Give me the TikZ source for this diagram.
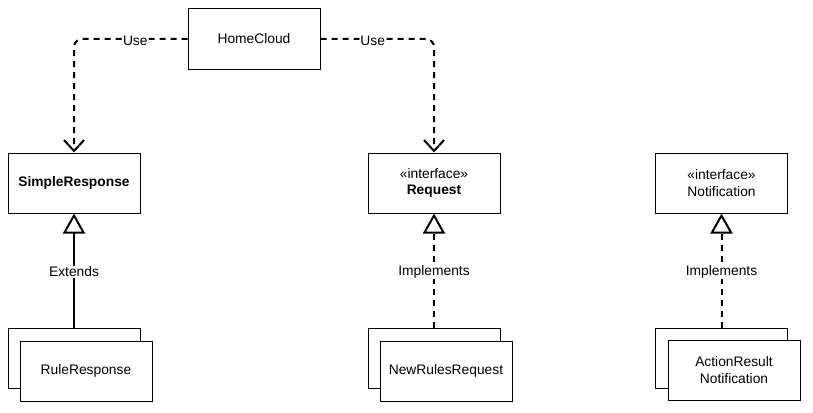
\documentclass[tikz,border=0pt]{standalone}
\usepackage{fontspec}
\setmainfont{Liberation Sans}
\usetikzlibrary{arrows.meta}

\tikzset{
    cls/.style={draw, line width=1pt, fill=white, minimum width=132pt, minimum height=60pt, inner sep=0pt, align=center, font=\fontsize{13.8}{16.5}\selectfont},
    lbl/.style={fill=white, inner sep=1pt, font=\fontsize{13.8}{16.5}\selectfont},
    link/.style={line width=2pt, dash pattern=on 6pt off 5pt},
    use/.style={link, rounded corners=8pt, -{Straight Barb[length=11pt, width=20pt, line width=2pt]}},
    impl/.style={link, -{Triangle[open, length=20pt, width=22pt, line width=2pt, fill=white]}},
    ext/.style={line width=2pt, -{Triangle[open, length=20pt, width=22pt, line width=2pt, fill=white]}}
}

\begin{document}
\begin{tikzpicture}[x=1pt, y=-1pt]
        \useasboundingbox (0,0) rectangle (813,412);

        \node[cls] (home) at (254,39) {HomeCloud};

        \node[cls] (simple) at (74,183) {\textbf{SimpleResponse}};
        \node[cls] (request) at (434,183) {«interface»\\\textbf{Request}};
        \node[cls] (notif) at (721.5,183) {«interface»\\Notification};

        \node[cls] (rrback) at (74,358) {};
        \node[cls] (rr) at (86,371) {RuleResponse};
        \node[cls] (nrback) at (434,358) {};
        \node[cls] (nr) at (446,371) {NewRulesRequest};
        \node[cls] (arback) at (721.5,358) {};
        \node[cls] (ar) at (734,370) {ActionResult\\Notification};

        \draw[use] (home.west) -| node[lbl, pos=0.23, yshift=-1.5pt] {Use} (simple.north);
        \draw[use] (home.east) -| node[lbl, pos=0.23, yshift=-1.5pt] {Use} (request.north);

        \draw[ext] (rrback.north) -- node[lbl, pos=0.49] {Extends} (simple.south);
        \draw[impl] (nrback.north) -- node[lbl, pos=0.49] {Implements} (request.south);
        \draw[impl] (arback.north) -- node[lbl, pos=0.49] {Implements} (notif.south);
    \end{tikzpicture}
\end{document}
